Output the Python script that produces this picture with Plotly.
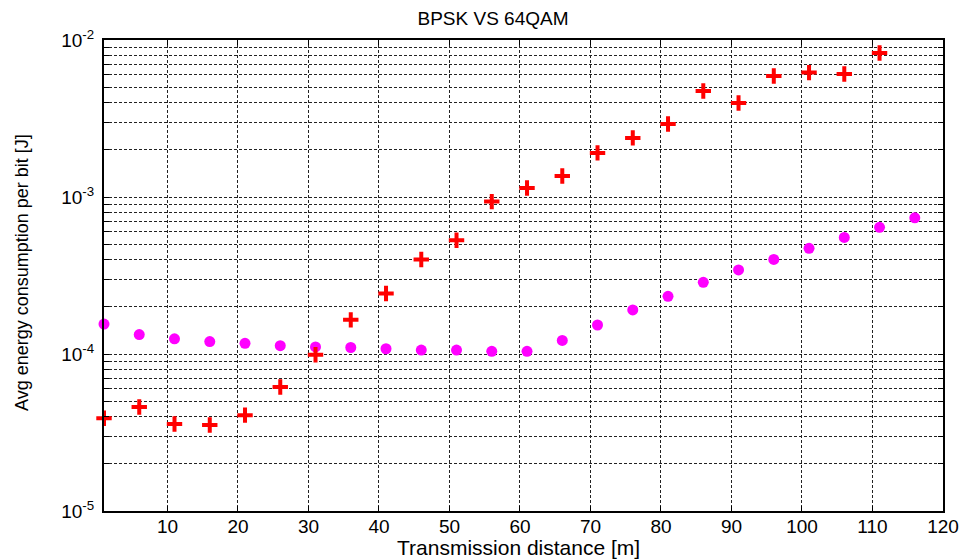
import plotly.graph_objects as go

# Data
x_bpsk = [1, 6, 11, 16, 21, 26, 31, 36, 41, 46, 51, 56, 61, 66, 71, 76, 81, 86, 91, 96, 101, 106, 111]
y_bpsk = [3.9e-5, 4.6e-5, 3.58e-5, 3.53e-5, 4.08e-5, 6.16e-5, 0.99e-4, 1.65e-4, 2.43e-4, 4.0e-4,
          5.3e-4, 9.35e-4, 1.14e-3, 1.36e-3, 1.91e-3, 2.38e-3, 2.92e-3, 4.73e-3, 3.97e-3, 5.9e-3,
          6.2e-3, 6.07e-3, 8.26e-3]
x_qam = [1, 6, 11, 16, 21, 26, 31, 36, 41, 46, 51, 56, 61, 66, 71, 76, 81, 86, 91, 96, 101, 106, 111, 116]
y_qam = [1.55e-4, 1.33e-4, 1.25e-4, 1.2e-4, 1.17e-4, 1.13e-4, 1.11e-4, 1.10e-4, 1.08e-4, 1.06e-4,
         1.06e-4, 1.04e-4, 1.04e-4, 1.22e-4, 1.53e-4, 1.91e-4, 2.33e-4, 2.86e-4, 3.43e-4, 4.0e-4,
         4.71e-4, 5.53e-4, 6.41e-4, 7.37e-4]

x_ticks = [10, 20, 30, 40, 50, 60, 70, 80, 90, 100, 110, 120]
decades = [-5, -4, -3, -2]

y_tickvals = []
y_ticktext = []
for d in decades:
    for m in range(1, 10):
        if d == -2 and m > 1:
            break
        y_tickvals.append(m * 10.0 ** d)
        y_ticktext.append(f"10<sup>{d}</sup>" if m == 1 else "")

FONT = "Liberation Sans, Arial, sans-serif"
W, H = 966, 560
L, R, T, B = 104, 23, 40, 49
PW, PH = W - L - R, H - T - B

fig = go.Figure()
fig.add_trace(go.Scatter(
    x=x_qam, y=y_qam, mode="markers", name="64QAM",
    marker=dict(symbol="circle", size=11, color="#ff00ff", line=dict(width=0)),
    cliponaxis=False,
))
fig.add_trace(go.Scatter(
    x=x_bpsk, y=y_bpsk, mode="markers", name="BPSK",
    marker=dict(symbol="cross-thin", size=11, color="#ff0000", line=dict(width=4, color="#ff0000")),
    cliponaxis=False,
))

grid = dict(showgrid=True, gridcolor="#222222", gridwidth=1, griddash="3px,2px")
fig.update_layout(
    width=W, height=H,
    paper_bgcolor="white", plot_bgcolor="white",
    margin=dict(l=L, r=R, t=T, b=B),
    showlegend=False,
    font=dict(family=FONT, color="black"),
    title=dict(text="BPSK VS 64QAM", x=493 / W, xanchor="center", y=1 - 18 / H, yanchor="middle",
               font=dict(size=19, family=FONT, color="black")),
    xaxis=dict(
        range=[1, 120], tickvals=x_ticks, ticktext=[str(v) for v in x_ticks],
        ticks="inside", ticklen=5, tickcolor="black", tickwidth=1,
        showline=True, linecolor="black", linewidth=2, mirror="ticks",
        zeroline=False, tickfont=dict(size=19, family=FONT), automargin=False,
        ticklabelstandoff=-3,
        **grid,
    ),
    yaxis=dict(
        type="log", range=[-5, -2], tickvals=y_tickvals, ticktext=y_ticktext,
        ticks="inside", ticklen=5, tickcolor="black", tickwidth=1,
        showline=True, linecolor="black", linewidth=2, mirror="ticks",
        zeroline=False, tickfont=dict(size=19, family=FONT), ticklabelstandoff=4, automargin=False,
        **grid,
    ),
    annotations=[
        dict(text="Transmission distance [m]", xref="paper", yref="paper",
             x=(518 - L) / PW, y=-(547 - (T + PH)) / PH, xanchor="center", yanchor="middle",
             showarrow=False, font=dict(size=21, family=FONT, color="black")),
        dict(text="Avg energy consumption per bit [J]", xref="paper", yref="paper",
             x=-(L - 22) / PW, y=1 - (273 - T) / PH, xanchor="center", yanchor="middle",
             textangle=-90, showarrow=False, font=dict(size=18, family=FONT, color="black")),
    ],
)

fig.write_html("out.html", config={"displayModeBar": False},
               post_script="document.body.style.margin='0';")
